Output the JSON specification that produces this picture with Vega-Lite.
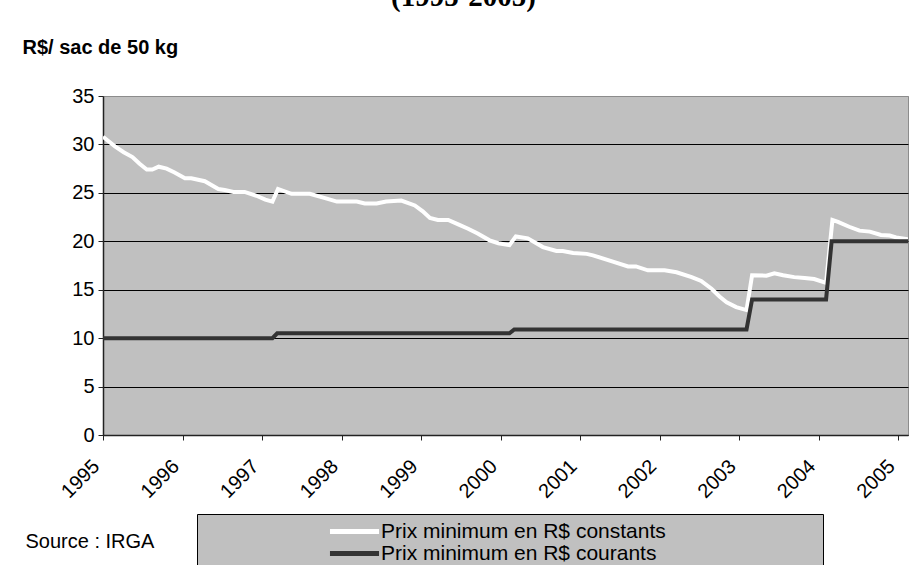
{
  "$schema": "https://vega.github.io/schema/vega-lite/v6.json",
  "width": 805,
  "height": 339,
  "autosize": {"type": "none"},
  "padding": {"left": 103, "top": 96, "right": 15, "bottom": 130},
  "background": "white",
  "title": {
    "text": "(1995-2005)",
    "font": "Liberation Serif",
    "fontSize": 29,
    "fontWeight": "bold",
    "color": "black",
    "anchor": "middle",
    "frame": "group",
    "dx": -42,
    "dy": 29,
    "offset": 31,
    "baseline": "alphabetic"
  },
  "config": {
    "view": {"fill": "#c0c0c0", "stroke": "#8c8c8c", "strokeWidth": 1},
    "font": "Liberation Sans"
  },
  "datasets": {
    "prices": [
      {"t": 1995.00, "v": 30.8, "serie": "Prix minimum en R$ constants"},
      {"t": 1995.15, "v": 29.8, "serie": "Prix minimum en R$ constants"},
      {"t": 1995.26, "v": 29.2, "serie": "Prix minimum en R$ constants"},
      {"t": 1995.37, "v": 28.7, "serie": "Prix minimum en R$ constants"},
      {"t": 1995.46, "v": 28.0, "serie": "Prix minimum en R$ constants"},
      {"t": 1995.55, "v": 27.4, "serie": "Prix minimum en R$ constants"},
      {"t": 1995.62, "v": 27.4, "serie": "Prix minimum en R$ constants"},
      {"t": 1995.70, "v": 27.7, "serie": "Prix minimum en R$ constants"},
      {"t": 1995.80, "v": 27.5, "serie": "Prix minimum en R$ constants"},
      {"t": 1995.90, "v": 27.1, "serie": "Prix minimum en R$ constants"},
      {"t": 1996.03, "v": 26.5, "serie": "Prix minimum en R$ constants"},
      {"t": 1996.11, "v": 26.5, "serie": "Prix minimum en R$ constants"},
      {"t": 1996.28, "v": 26.2, "serie": "Prix minimum en R$ constants"},
      {"t": 1996.45, "v": 25.4, "serie": "Prix minimum en R$ constants"},
      {"t": 1996.53, "v": 25.3, "serie": "Prix minimum en R$ constants"},
      {"t": 1996.64, "v": 25.1, "serie": "Prix minimum en R$ constants"},
      {"t": 1996.78, "v": 25.1, "serie": "Prix minimum en R$ constants"},
      {"t": 1996.93, "v": 24.7, "serie": "Prix minimum en R$ constants"},
      {"t": 1997.04, "v": 24.3, "serie": "Prix minimum en R$ constants"},
      {"t": 1997.13, "v": 24.1, "serie": "Prix minimum en R$ constants"},
      {"t": 1997.20, "v": 25.4, "serie": "Prix minimum en R$ constants"},
      {"t": 1997.37, "v": 24.9, "serie": "Prix minimum en R$ constants"},
      {"t": 1997.60, "v": 24.9, "serie": "Prix minimum en R$ constants"},
      {"t": 1997.77, "v": 24.5, "serie": "Prix minimum en R$ constants"},
      {"t": 1997.94, "v": 24.1, "serie": "Prix minimum en R$ constants"},
      {"t": 1998.19, "v": 24.1, "serie": "Prix minimum en R$ constants"},
      {"t": 1998.29, "v": 23.9, "serie": "Prix minimum en R$ constants"},
      {"t": 1998.44, "v": 23.9, "serie": "Prix minimum en R$ constants"},
      {"t": 1998.56, "v": 24.1, "serie": "Prix minimum en R$ constants"},
      {"t": 1998.75, "v": 24.2, "serie": "Prix minimum en R$ constants"},
      {"t": 1998.92, "v": 23.7, "serie": "Prix minimum en R$ constants"},
      {"t": 1999.02, "v": 23.1, "serie": "Prix minimum en R$ constants"},
      {"t": 1999.11, "v": 22.4, "serie": "Prix minimum en R$ constants"},
      {"t": 1999.21, "v": 22.2, "serie": "Prix minimum en R$ constants"},
      {"t": 1999.34, "v": 22.2, "serie": "Prix minimum en R$ constants"},
      {"t": 1999.48, "v": 21.7, "serie": "Prix minimum en R$ constants"},
      {"t": 1999.59, "v": 21.3, "serie": "Prix minimum en R$ constants"},
      {"t": 1999.71, "v": 20.8, "serie": "Prix minimum en R$ constants"},
      {"t": 1999.86, "v": 20.1, "serie": "Prix minimum en R$ constants"},
      {"t": 1999.97, "v": 19.8, "serie": "Prix minimum en R$ constants"},
      {"t": 2000.11, "v": 19.6, "serie": "Prix minimum en R$ constants"},
      {"t": 2000.19, "v": 20.5, "serie": "Prix minimum en R$ constants"},
      {"t": 2000.34, "v": 20.3, "serie": "Prix minimum en R$ constants"},
      {"t": 2000.53, "v": 19.4, "serie": "Prix minimum en R$ constants"},
      {"t": 2000.70, "v": 19.0, "serie": "Prix minimum en R$ constants"},
      {"t": 2000.78, "v": 19.0, "serie": "Prix minimum en R$ constants"},
      {"t": 2000.91, "v": 18.8, "serie": "Prix minimum en R$ constants"},
      {"t": 2001.08, "v": 18.7, "serie": "Prix minimum en R$ constants"},
      {"t": 2001.16, "v": 18.55, "serie": "Prix minimum en R$ constants"},
      {"t": 2001.41, "v": 17.9, "serie": "Prix minimum en R$ constants"},
      {"t": 2001.60, "v": 17.4, "serie": "Prix minimum en R$ constants"},
      {"t": 2001.70, "v": 17.4, "serie": "Prix minimum en R$ constants"},
      {"t": 2001.85, "v": 17.0, "serie": "Prix minimum en R$ constants"},
      {"t": 2002.06, "v": 17.0, "serie": "Prix minimum en R$ constants"},
      {"t": 2002.21, "v": 16.8, "serie": "Prix minimum en R$ constants"},
      {"t": 2002.40, "v": 16.3, "serie": "Prix minimum en R$ constants"},
      {"t": 2002.52, "v": 15.9, "serie": "Prix minimum en R$ constants"},
      {"t": 2002.65, "v": 15.1, "serie": "Prix minimum en R$ constants"},
      {"t": 2002.75, "v": 14.3, "serie": "Prix minimum en R$ constants"},
      {"t": 2002.84, "v": 13.7, "serie": "Prix minimum en R$ constants"},
      {"t": 2002.96, "v": 13.2, "serie": "Prix minimum en R$ constants"},
      {"t": 2003.09, "v": 12.9, "serie": "Prix minimum en R$ constants"},
      {"t": 2003.16, "v": 16.5, "serie": "Prix minimum en R$ constants"},
      {"t": 2003.34, "v": 16.45, "serie": "Prix minimum en R$ constants"},
      {"t": 2003.44, "v": 16.7, "serie": "Prix minimum en R$ constants"},
      {"t": 2003.55, "v": 16.5, "serie": "Prix minimum en R$ constants"},
      {"t": 2003.69, "v": 16.3, "serie": "Prix minimum en R$ constants"},
      {"t": 2003.82, "v": 16.2, "serie": "Prix minimum en R$ constants"},
      {"t": 2003.94, "v": 16.1, "serie": "Prix minimum en R$ constants"},
      {"t": 2004.09, "v": 15.7, "serie": "Prix minimum en R$ constants"},
      {"t": 2004.17, "v": 22.2, "serie": "Prix minimum en R$ constants"},
      {"t": 2004.24, "v": 22.0, "serie": "Prix minimum en R$ constants"},
      {"t": 2004.38, "v": 21.5, "serie": "Prix minimum en R$ constants"},
      {"t": 2004.51, "v": 21.1, "serie": "Prix minimum en R$ constants"},
      {"t": 2004.64, "v": 21.0, "serie": "Prix minimum en R$ constants"},
      {"t": 2004.78, "v": 20.65, "serie": "Prix minimum en R$ constants"},
      {"t": 2004.89, "v": 20.6, "serie": "Prix minimum en R$ constants"},
      {"t": 2004.97, "v": 20.4, "serie": "Prix minimum en R$ constants"},
      {"t": 2005.12, "v": 20.2, "serie": "Prix minimum en R$ constants"},
      {"t": 1995.00, "v": 10.0, "serie": "Prix minimum en R$ courants"},
      {"t": 1997.13, "v": 10.0, "serie": "Prix minimum en R$ courants"},
      {"t": 1997.19, "v": 10.5, "serie": "Prix minimum en R$ courants"},
      {"t": 2000.11, "v": 10.5, "serie": "Prix minimum en R$ courants"},
      {"t": 2000.17, "v": 10.9, "serie": "Prix minimum en R$ courants"},
      {"t": 2003.09, "v": 10.9, "serie": "Prix minimum en R$ courants"},
      {"t": 2003.16, "v": 14.0, "serie": "Prix minimum en R$ courants"},
      {"t": 2004.09, "v": 14.0, "serie": "Prix minimum en R$ courants"},
      {"t": 2004.16, "v": 20.0, "serie": "Prix minimum en R$ courants"},
      {"t": 2005.12, "v": 20.0, "serie": "Prix minimum en R$ courants"}
    ]
  },
  "data": {"name": "prices"},
  "mark": {"type": "line", "strokeWidth": 4, "clip": true},
  "encoding": {
    "x": {
      "field": "t",
      "type": "quantitative",
      "scale": {"domain": [1995, 2005.12], "nice": false, "zero": false},
      "axis": {
        "values": [1995, 1996, 1997, 1998, 1999, 2000, 2001, 2002, 2003, 2004, 2005],
        "format": "d",
        "grid": false,
        "domainColor": "#222222",
        "domainWidth": 1.5,
        "tickColor": "#222222",
        "tickSize": 5,
        "labelAngle": -45,
        "labelAlign": "right",
        "labelBaseline": "middle",
        "labelPadding": 23,
        "labelOffset": -7,
        "labelFont": "Liberation Sans",
        "labelFontSize": 20,
        "labelColor": "black",
        "title": "Source : IRGA",
        "titleFont": "Liberation Sans",
        "titleFontSize": 20,
        "titleFontWeight": "normal",
        "titleColor": "black",
        "titleAngle": 0,
        "titleAlign": "left",
        "titleBaseline": "middle",
        "titleX": -78,
        "titleY": 106
      }
    },
    "y": {
      "field": "v",
      "type": "quantitative",
      "scale": {"domain": [0, 35], "nice": false},
      "axis": {
        "values": [0, 5, 10, 15, 20, 25, 30, 35],
        "grid": true,
        "gridColor": {"condition": {"test": "datum.value == 35", "value": "#8c8c8c"}, "value": "black"},
        "gridWidth": 1,
        "domainColor": "#222222",
        "domainWidth": 1.5,
        "tickColor": "#222222",
        "tickSize": 5,
        "labelFont": "Liberation Sans",
        "labelFontSize": 20,
        "labelColor": "black",
        "labelPadding": 4,
        "title": "R$/ sac de 50 kg",
        "titleFont": "Liberation Sans",
        "titleFontSize": 20,
        "titleFontWeight": "bold",
        "titleColor": "black",
        "titleAngle": 0,
        "titleAlign": "left",
        "titleBaseline": "alphabetic",
        "titleX": -81,
        "titleY": -43
      }
    },
    "color": {
      "field": "serie",
      "type": "nominal",
      "scale": {
        "domain": ["Prix minimum en R$ constants", "Prix minimum en R$ courants"],
        "range": ["#ffffff", "#333333"]
      },
      "legend": {
        "orient": "none",
        "legendX": 94,
        "legendY": 418,
        "title": "\u00a0",
        "titleOrient": "right",
        "titlePadding": 150,
        "titleFontSize": 10,
        "fillColor": "#c0c0c0",
        "strokeColor": "black",
        "padding": 7,
        "symbolType": "M -3.27 0 L 3.27 0",
        "symbolSize": 225,
        "symbolStrokeWidth": 5,
        "symbolFillColor": "transparent",
        "symbolOffset": 140,
        "labelOffset": 16,
        "labelFont": "Liberation Sans",
        "labelFontSize": 21,
        "labelColor": "black",
        "labelLimit": 800,
        "rowPadding": 0
      }
    },
    "order": {"field": "serie"}
  }
}
